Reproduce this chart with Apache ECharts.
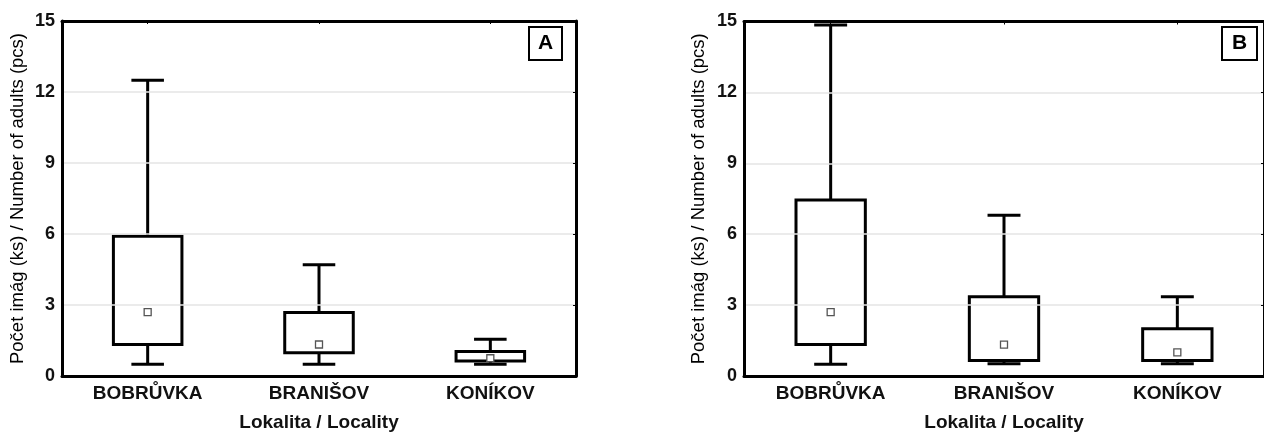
<!DOCTYPE html>
<html>
<head>
<meta charset="utf-8">
<script src="https://cdn.jsdelivr.net/npm/echarts@6/dist/echarts.min.js"></script>
<style>
html,body{margin:0;padding:0;background:#fff;}
#c{width:1264px;height:437px;}
</style>
</head>
<body>
<div id="c"></div>
<script>
const categories = ['BOBRŮVKA', 'BRANIŠOV', 'KONÍKOV'];
const yTicks = [0, 3, 6, 9, 12, 15];
// Panel A
const minA  = [0.5, 0.5, 0.5];
const q1A   = [1.33, 0.98, 0.63];
const q3A   = [5.9, 2.68, 1.03];
const maxA  = [12.5, 4.7, 1.55];
const meanA = [2.7, 1.33, 0.75];
// Panel B
const minB  = [0.5, 0.52, 0.52];
const q1B   = [1.33, 0.66, 0.66];
const q3B   = [7.45, 3.35, 2.0];
const maxB  = [14.85, 6.8, 3.35];
const meanB = [2.7, 1.33, 1.0];

const FONT = '"Liberation Sans", Arial, sans-serif';

function build(mn, q1, q3, mx, me) {
  return categories.map((c, i) => [i, mn[i], q1[i], q3[i], mx[i], me[i]]);
}

function renderBox(params, api) {
  const x = api.value(0);
  const pMin = api.coord([x, api.value(1)]);
  const pQ1 = api.coord([x, api.value(2)]);
  const pQ3 = api.coord([x, api.value(3)]);
  const pMax = api.coord([x, api.value(4)]);
  const pMean = api.coord([x, api.value(5)]);
  const band = api.size([1, 0])[0];
  const bw = band * 0.4, cw = band * 0.19;
  const cx = pMin[0];
  const st = { stroke: '#000', lineWidth: 3, fill: null };
  return {
    type: 'group',
    children: [
      { type: 'line', shape: { x1: cx, y1: pMax[1], x2: cx, y2: pQ3[1] }, style: st },
      { type: 'line', shape: { x1: cx, y1: pQ1[1], x2: cx, y2: pMin[1] }, style: st },
      { type: 'line', shape: { x1: cx - cw / 2, y1: pMax[1], x2: cx + cw / 2, y2: pMax[1] }, style: st },
      { type: 'line', shape: { x1: cx - cw / 2, y1: pMin[1], x2: cx + cw / 2, y2: pMin[1] }, style: st },
      { type: 'rect', shape: { x: cx - bw / 2, y: pQ3[1], width: bw, height: pQ1[1] - pQ3[1] },
        style: { stroke: '#000', lineWidth: 3, fill: '#fff' } },
      { type: 'rect', shape: { x: cx - 3.5, y: pMean[1] - 3.5, width: 7, height: 7 },
        style: { stroke: '#555', lineWidth: 1.3, fill: '#fff' } }
    ]
  };
}

function xAx(gi) {
  return {
    type: 'category', gridIndex: gi, data: categories, position: 'bottom',
    name: 'Lokalita / Locality', nameLocation: 'middle', nameGap: 37,
    nameTextStyle: { fontFamily: FONT, fontSize: 19, fontWeight: 'bold', color: '#111' },
    axisLine: { onZero: false, lineStyle: { color: '#000', width: 3 } },
    axisTick: { show: true, alignWithLabel: true, length: 2, lineStyle: { color: '#000', width: 1 } },
    axisLabel: { fontFamily: FONT, fontSize: 19, fontWeight: 'bold', color: '#111', margin: 8 },
    splitLine: { show: false }, z: 5
  };
}
function xTop(gi) {
  return {
    type: 'category', gridIndex: gi, data: categories, position: 'top',
    axisLine: { show: true, onZero: false, lineStyle: { color: '#000', width: 3 } },
    axisTick: { show: true, alignWithLabel: true, inside: true, length: 3, lineStyle: { color: '#000', width: 1 } },
    axisLabel: { show: false }, splitLine: { show: false }, z: 5
  };
}
function yAx(gi, gap) {
  return {
    type: 'value', gridIndex: gi, min: 0, max: 15, interval: 3, position: 'left',
    name: 'Počet imág (ks) / Number of adults (pcs)', nameLocation: 'middle', nameGap: gap,
    nameTextStyle: { fontFamily: FONT, fontSize: 18.5, color: '#000' },
    axisLine: { show: true, onZero: false, lineStyle: { color: '#000', width: 3 } },
    axisTick: { show: false },
    axisLabel: { fontFamily: FONT, fontSize: 18, fontWeight: 'bold', color: '#111', margin: 7,
      formatter: v => (yTicks.indexOf(v) >= 0 ? String(v) : '') },
    splitLine: { show: true, lineStyle: { color: '#e4e4e4', width: 1.5 } }, z: 5
  };
}
function yRight(gi) {
  return {
    type: 'value', gridIndex: gi, min: 0, max: 15, interval: 3, position: 'right',
    axisLine: { show: true, onZero: false, lineStyle: { color: '#000', width: 3 } },
    axisTick: { show: true, inside: true, length: 3, lineStyle: { color: '#000', width: 1 } },
    axisLabel: { show: false }, splitLine: { show: false }, z: 5
  };
}

const chart = echarts.init(document.getElementById('c'));
chart.setOption({
  animation: false,
  backgroundColor: '#fff',
  title: [
    { text: 'A', left: 529, top: 27, padding: [6, 9], borderWidth: 2, borderColor: '#000',
      textStyle: { fontFamily: FONT, fontSize: 21, fontWeight: 'bold', color: '#000' } },
    { text: 'B', left: 1222, top: 27, padding: [6, 10], borderWidth: 2, borderColor: '#000',
      textStyle: { fontFamily: FONT, fontSize: 21, fontWeight: 'bold', color: '#000' } }
  ],
  grid: [
    { left: 62, top: 21, width: 514, height: 359.5, containLabel: false },
    { left: 744, top: 21.5, width: 527, height: 360, containLabel: false }
  ],
  xAxis: [xAx(0), xAx(1), xTop(0), xTop(1)],
  yAxis: [yAx(0, 35), yAx(1, 36), yRight(0), yRight(1)],
  series: [
    { type: 'custom', xAxisIndex: 0, yAxisIndex: 0, renderItem: renderBox, clip: false,
      encode: { x: 0, y: [1, 2, 3, 4, 5] }, data: build(minA, q1A, q3A, maxA, meanA) },
    { type: 'custom', xAxisIndex: 1, yAxisIndex: 1, renderItem: renderBox, clip: false,
      encode: { x: 0, y: [1, 2, 3, 4, 5] }, data: build(minB, q1B, q3B, maxB, meanB) }
  ]
});
</script>
</body>
</html>
